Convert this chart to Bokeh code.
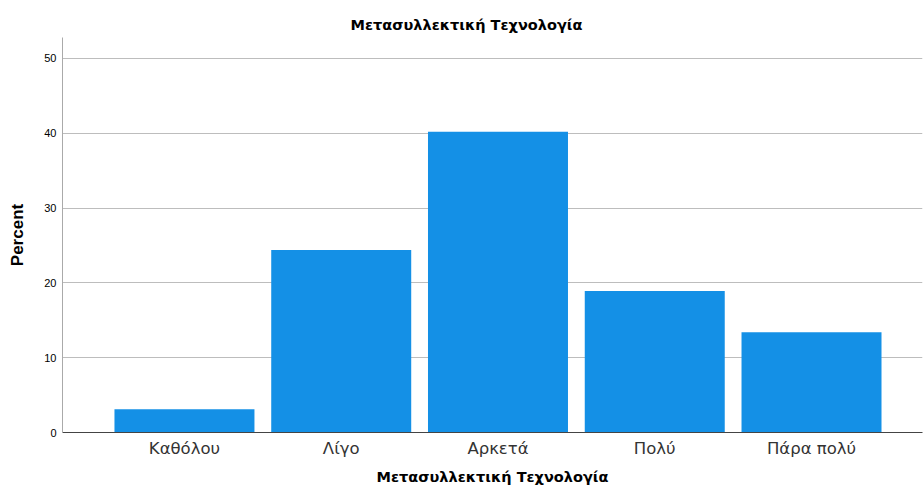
from bokeh.plotting import figure
from bokeh.models import Range1d, FixedTicker, ColumnDataSource
from bokeh.embed import file_html
from bokeh.resources import INLINE

categories = ["Καθόλου", "Λίγο", "Αρκετά", "Πολύ", "Πάρα πολύ"]
percent = [3.1, 24.4, 40.2, 18.9, 13.4]
y_ticks = [0, 10, 20, 30, 40, 50]

xs = list(range(len(categories)))
src = ColumnDataSource(dict(x=xs, top=percent))

p = figure(width=923, height=488, output_backend="svg", toolbar_location=None,
           x_range=Range1d(-0.778, len(categories) - 1 + 0.708),
           y_range=Range1d(0, 52.8),
           title="Μετασυλλεκτική Τεχνολογία",
           min_border_left=62, min_border_right=1, min_border_top=37, min_border_bottom=56)

p.vbar(x="x", top="top", width=0.893, source=src, fill_color="#1490E6", line_color=None)

p.outline_line_color = None
p.background_fill_color = "white"
p.border_fill_color = "white"

p.title.align = "left"
p.title.offset = 288
p.title.text_font = "DejaVu Sans"
p.title.text_font_size = "14.5px"
p.title.text_font_style = "bold"
p.title.text_color = "#000000"

p.xgrid.grid_line_color = None
p.ygrid.ticker = FixedTicker(ticks=y_ticks)
p.ygrid.grid_line_color = "#bdbdbd"
p.ygrid.grid_line_width = 1

p.xaxis.ticker = FixedTicker(ticks=xs)
p.xaxis.major_label_overrides = {i: c for i, c in enumerate(categories)}
p.xaxis.major_tick_line_color = None
p.xaxis.major_tick_out = 0
p.xaxis.major_tick_in = 0
p.xaxis.minor_tick_line_color = None
p.xaxis.axis_line_color = "#444444"
p.xaxis.axis_line_width = 1
p.xaxis.major_label_text_font = "DejaVu Sans"
p.xaxis.major_label_text_font_size = "16.5px"
p.xaxis.major_label_text_color = "#333333"
p.xaxis.major_label_standoff = 6
p.xaxis.axis_label = "Μετασυλλεκτική Τεχνολογία"
p.xaxis.axis_label_text_font = "DejaVu Sans"
p.xaxis.axis_label_text_font_size = "14.5px"
p.xaxis.axis_label_text_font_style = "bold"
p.xaxis.axis_label_text_color = "#000000"
p.xaxis.axis_label_standoff = 8

p.yaxis.ticker = FixedTicker(ticks=y_ticks)
p.yaxis.major_tick_line_color = None
p.yaxis.major_tick_out = 0
p.yaxis.major_tick_in = 0
p.yaxis.minor_tick_line_color = None
p.yaxis.axis_line_color = "#aaaaaa"
p.yaxis.major_label_text_font = "Liberation Sans"
p.yaxis.major_label_text_font_size = "11px"
p.yaxis.major_label_text_color = "#000000"
p.yaxis.major_label_standoff = 6
p.yaxis.axis_label = "Percent"
p.yaxis.axis_label_text_font = "Liberation Sans"
p.yaxis.axis_label_text_font_size = "17px"
p.yaxis.axis_label_text_font_style = "bold"
p.yaxis.axis_label_text_color = "#000000"
p.yaxis.axis_label_standoff = 14

open("out.html", "w").write(file_html(p, INLINE))
